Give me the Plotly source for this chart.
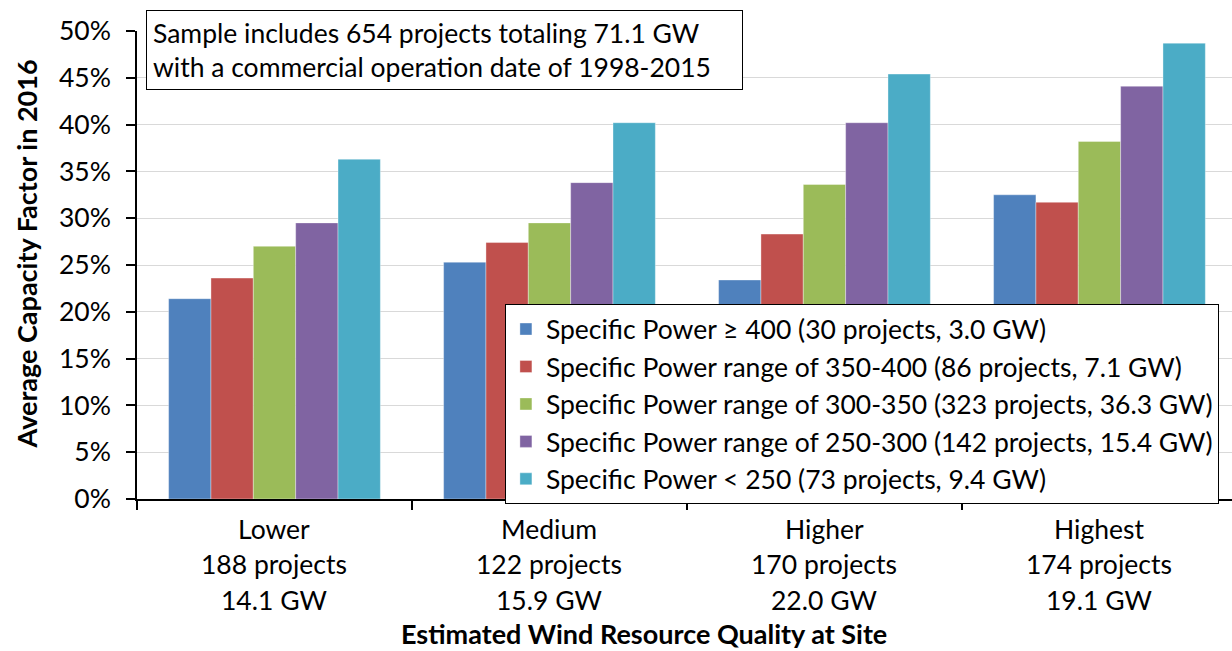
import plotly.graph_objects as go

# Wind resource quality bins and their sample sizes
categories = ["Lower", "Medium", "Higher", "Highest"]
category_projects = ["188 projects", "122 projects", "170 projects", "174 projects"]
category_capacity = ["14.1 GW", "15.9 GW", "22.0 GW", "19.1 GW"]

# Specific power groups (legend entries)
series_names = [
    "Specific Power \u2265 400 (30 projects, 3.0 GW)",
    "Specific Power range of 350-400 (86 projects, 7.1 GW)",
    "Specific Power range of 300-350 (323 projects, 36.3 GW)",
    "Specific Power range of 250-300 (142 projects, 15.4 GW)",
    "Specific Power < 250 (73 projects, 9.4 GW)",
]

# Average 2016 capacity factor per group, one value per resource bin
sp_400_plus = [0.214, 0.253, 0.234, 0.325]
sp_350_400 = [0.236, 0.274, 0.283, 0.317]
sp_300_350 = [0.270, 0.295, 0.336, 0.382]
sp_250_300 = [0.295, 0.338, 0.402, 0.441]
sp_below_250 = [0.363, 0.402, 0.454, 0.487]

series_values = [sp_400_plus, sp_350_400, sp_300_350, sp_250_300, sp_below_250]
series_colors = ["#4F81BD", "#C0504D", "#9BBB59", "#8064A2", "#4BACC6"]

y_ticks = [i / 100 for i in range(0, 51, 5)]
y_tick_text = [f"{i}%" for i in range(0, 51, 5)]

FONT = "Lato"
TXT = 26.5
BOLD = 27

fig = go.Figure()
for i, (name, vals, col) in enumerate(zip(series_names, series_values, series_colors)):
    fig.add_trace(go.Bar(
        x=categories, y=vals, name=name,
        marker=dict(color=col, line=dict(color="rgba(255,255,255,0.6)", width=0.6)),
        legendgroup=f"g{i}",
    ))

# Three-line category labels beneath the axis
line_offsets = [-30, -65, -101]
for cat, proj, cap in zip(categories, category_projects, category_capacity):
    for txt, off in zip([cat, proj, cap], line_offsets):
        fig.add_annotation(
            x=cat, xref="x", y=0, yref="paper", yanchor="middle",
            yshift=off, text=txt, showarrow=False,
            font=dict(family=FONT, size=TXT, color="#000000"),
        )

# Axis titles
fig.add_annotation(
    x=0.463, xref="paper", y=0, yref="paper", yanchor="middle",
    yshift=-134, text="<b>Estimated Wind Resource Quality at Site</b>",
    showarrow=False, font=dict(family=FONT, size=BOLD, color="#000000"),
)
fig.add_annotation(
    x=0, xref="paper", y=0.5225, yref="paper", xanchor="center", yanchor="middle",
    xshift=-111, textangle=-90, text="<b>Average Capacity Factor in 2016</b>",
    showarrow=False, font=dict(family=FONT, size=BOLD, color="#000000"),
)

# Sample note box
fig.add_annotation(
    x=-0.5, xref="x", y=1.0, yref="paper",
    xanchor="left", yanchor="top", xshift=9, yshift=21,
    text="Sample includes 654 projects totaling 71.1 GW<br>with a commercial operation date of 1998-2015",
    align="left", width=583, showarrow=False,
    font=dict(family=FONT, size=TXT, color="#000000"),
    bordercolor="#000000", borderwidth=1, borderpad=6, bgcolor="#FFFFFF",
)

fig.update_layout(
    width=1232, height=651,
    margin=dict(l=137, r=0, t=31, b=152),
    paper_bgcolor="#FFFFFF", plot_bgcolor="#FFFFFF",
    barmode="group", bargap=0.23, bargroupgap=0,
    font=dict(family=FONT, size=TXT, color="#000000"),
    showlegend=True,
    legend=dict(
        x=0.336, y=0.416, xanchor="left", yanchor="top",
        bgcolor="#FFFFFF", bordercolor="#000000", borderwidth=1,
        font=dict(family=FONT, size=TXT, color="#000000"),
        tracegroupgap=0, itemwidth=30,
    ),
    xaxis=dict(
        type="category", range=[-0.5, 3.482],
        showticklabels=False, ticks="outside", ticklen=9, tickwidth=1.5,
        tickcolor="#000000", tickson="boundaries",
        showline=True, linecolor="#000000", linewidth=1.5,
        showgrid=False, zeroline=False,
    ),
    yaxis=dict(
        range=[0, 0.5], tickvals=y_ticks, ticktext=y_tick_text,
        ticks="outside", ticklen=9, tickwidth=1.5, tickcolor="#000000",
        ticklabelstandoff=10,
        showline=True, linecolor="#000000", linewidth=1.5,
        showgrid=True, gridcolor="#D9D9D9", gridwidth=1.2, zeroline=False,
        tickfont=dict(family=FONT, size=TXT),
    ),
)

fig.write_html("out.html")
